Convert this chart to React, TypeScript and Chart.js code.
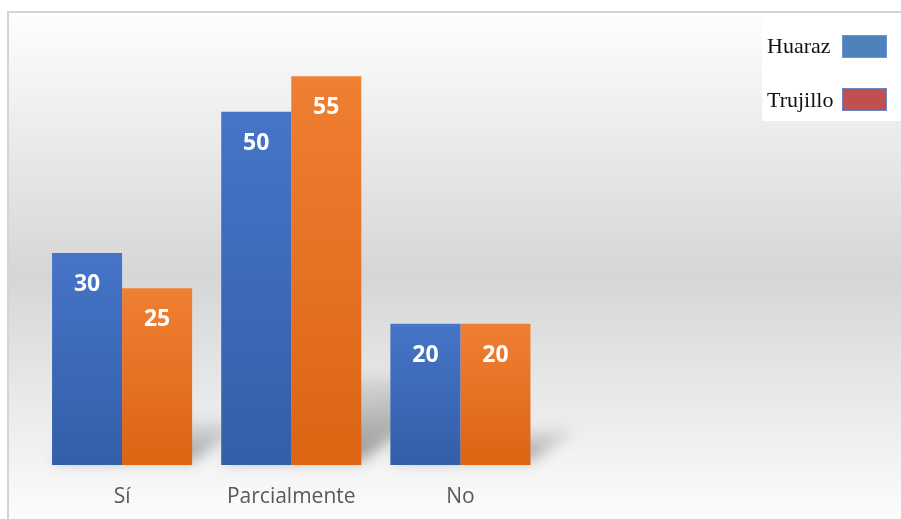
import React, { useEffect, useRef } from "react";
import { Chart, registerables } from "chart.js";

Chart.register(...registerables);

const categories = ["Sí", "Parcialmente", "No"];
const huaraz = [30, 50, 20];
const trujillo = [25, 55, 20];
const seriesNames = ["Huaraz", "Trujillo"];
const legendColors = ["#4F81BD", "#C0504D"];
const legendBorders = ["#6A97D2", "#6F84C4"];
const barTop = ["#4674C7", "#EF7F33"];
const barBottom = ["#335EA8", "#DC6413"];

const backgroundPlugin = {
  id: "bgFrame",
  beforeDraw(chart: any) {
    const { ctx, width, height } = chart;
    ctx.save();
    ctx.fillStyle = "#ffffff";
    ctx.fillRect(0, 0, width, height);
    const g = ctx.createLinearGradient(0, 12, 0, height);
    g.addColorStop(0, "#fefefe");
    g.addColorStop(0.52, "#d6d6d6");
    g.addColorStop(1, "#fcfcfc");
    ctx.fillStyle = g;
    ctx.fillRect(8, 12, width - 8, height - 12);
    ctx.strokeStyle = "#d4d4d4";
    ctx.lineWidth = 2;
    ctx.beginPath();
    ctx.moveTo(8, height);
    ctx.lineTo(8, 12);
    ctx.lineTo(width, 12);
    ctx.stroke();
    ctx.restore();
  },
};

const shadowPlugin = {
  id: "barShadows",
  beforeDatasetsDraw(chart: any) {
    const { ctx } = chart;
    const base = chart.scales.y.getPixelForValue(0);
    ctx.save();
    ctx.filter = "blur(7px)";
    chart.data.datasets.forEach((_: any, di: number) => {
      const meta = chart.getDatasetMeta(di);
      meta.data.forEach((bar: any) => {
        const h = base - bar.y;
        const x0 = bar.x - bar.width / 2;
        const x1 = bar.x + bar.width / 2;
        const dx = 0.34 * h;
        const dy = 0.25 * h;
        const g = ctx.createLinearGradient(0, base, 0, base - dy);
        g.addColorStop(0, "rgba(0,0,0,0.38)");
        g.addColorStop(1, "rgba(0,0,0,0.06)");
        ctx.fillStyle = g;
        ctx.beginPath();
        ctx.moveTo(x0, base - 4);
        ctx.lineTo(x1, base - 4);
        ctx.lineTo(x1 + dx, base - dy);
        ctx.lineTo(x0 + dx, base - dy);
        ctx.closePath();
        ctx.fill();
      });
    });
    ctx.restore();
  },
};

const labelPlugin = {
  id: "barLabels",
  afterDatasetsDraw(chart: any) {
    const { ctx } = chart;
    ctx.save();
    ctx.fillStyle = "#ffffff";
    ctx.font = "bold 23px 'Open Sans'";
    ctx.textAlign = "center";
    ctx.textBaseline = "alphabetic";
    chart.data.datasets.forEach((ds: any, di: number) => {
      const meta = chart.getDatasetMeta(di);
      meta.data.forEach((bar: any, i: number) => {
        ctx.fillText(String(ds.data[i]), bar.x, bar.y + 38);
      });
    });
    ctx.restore();
  },
};

const legendPlugin = {
  id: "customLegend",
  afterDraw(chart: any) {
    const { ctx, width } = chart;
    ctx.save();
    ctx.fillStyle = "#ffffff";
    ctx.fillRect(762, 16, width - 762, 105);
    ctx.font = "22px 'Liberation Serif'";
    ctx.textAlign = "left";
    ctx.textBaseline = "alphabetic";
    const rows = [53, 107];
    const boxes = [35, 88];
    seriesNames.forEach((name, i) => {
      ctx.fillStyle = "#111111";
      ctx.fillText(name, 767, rows[i]);
      ctx.fillStyle = legendColors[i];
      ctx.fillRect(842, boxes[i], 45, 23);
      ctx.strokeStyle = legendBorders[i];
      ctx.lineWidth = 1;
      ctx.strokeRect(842.5, boxes[i] + 0.5, 44, 22);
    });
    ctx.restore();
  },
};

function makeGradient(idx: number) {
  return (context: any) => {
    const chart = context.chart;
    if (!chart.chartArea || context.type !== "data" || !chart.scales.y) return barTop[idx];
    const y = chart.scales.y;
    const top = y.getPixelForValue(context.raw);
    const bottom = y.getPixelForValue(0);
    const g = chart.ctx.createLinearGradient(0, top, 0, bottom);
    g.addColorStop(0, barTop[idx]);
    g.addColorStop(1, barBottom[idx]);
    return g;
  };
}

export default function App() {
  const canvasRef = useRef<HTMLCanvasElement>(null);

  useEffect(() => {
    const canvas = canvasRef.current;
    if (!canvas) return;
    const chart = new Chart(canvas, {
      type: "bar",
      data: {
        labels: categories,
        datasets: [
          {
            label: seriesNames[0],
            data: huaraz,
            backgroundColor: makeGradient(0),
            borderWidth: 0,
            categoryPercentage: 0.828,
            barPercentage: 1,
          },
          {
            label: seriesNames[1],
            data: trujillo,
            backgroundColor: makeGradient(1),
            borderWidth: 0,
            categoryPercentage: 0.828,
            barPercentage: 1,
          },
        ],
      },
      options: {
        responsive: false,
        animation: false,
        events: [],
        layout: { padding: { left: 37.5, right: 356, top: 41, bottom: 0 } },
        plugins: {
          legend: { display: false },
          tooltip: { enabled: false },
        },
        scales: {
          x: {
            grid: { display: false, drawTicks: false },
            border: { display: false },
            ticks: {
              color: "#595959",
              font: { family: "'Open Sans'", size: 21 },
              padding: 19,
            },
            afterFit: (axis: any) => {
              axis.height = 54;
            },
          } as any,
          y: {
            display: false,
            min: 0,
            max: 60,
          },
        },
      },
      plugins: [backgroundPlugin, shadowPlugin, labelPlugin, legendPlugin],
    });
    return () => chart.destroy();
  }, []);

  return (
    <div style={{ position: "absolute", left: 0, top: 0, width: 901, height: 519 }}>
      <canvas ref={canvasRef} width={901} height={519} style={{ display: "block" }} />
    </div>
  );
}
